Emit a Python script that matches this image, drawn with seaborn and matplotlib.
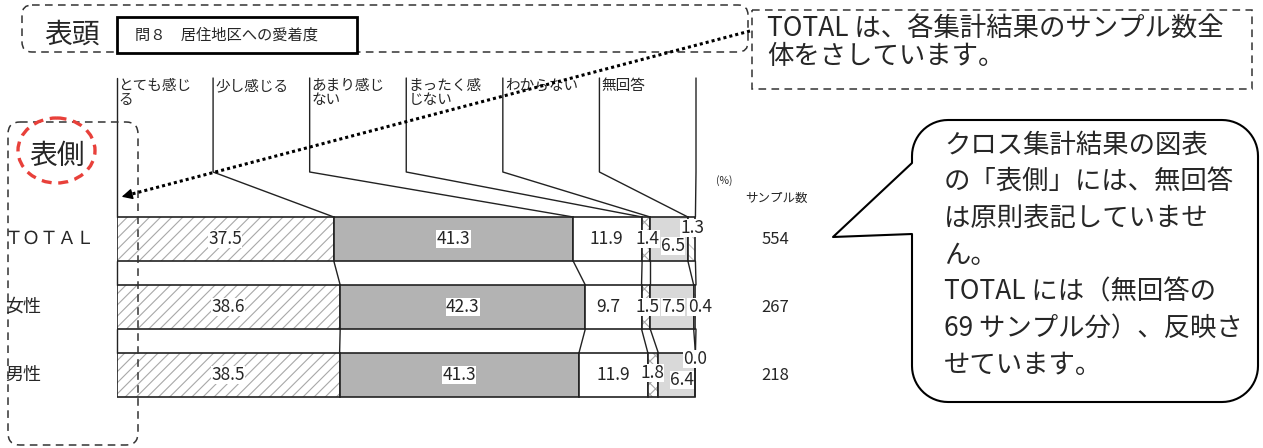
import numpy as np
import pandas as pd
import matplotlib
matplotlib.use("Agg")
import matplotlib.pyplot as plt
from matplotlib.patches import FancyBboxPatch, Rectangle, Ellipse, PathPatch
from matplotlib.path import Path
from matplotlib import transforms
from matplotlib.lines import Line2D
import seaborn as sns

# ---------------- data ----------------
groups = ["ＴＯＴＡＬ", "女性", "男性"]
answers = ["とても感じる", "少し感じる", "あまり感じない", "まったく感じない", "わからない", "無回答"]
answer_labels = ["とても感じ\nる", "少し感じる", "あまり感じ\nない", "まったく感\nじない", "わからない", "無回答"]
very_much = [37.5, 38.6, 38.5]
somewhat = [41.3, 42.3, 41.3]
not_much = [11.9, 9.7, 11.9]
not_at_all = [1.4, 1.5, 1.8]
dont_know = [6.5, 7.5, 6.4]
no_answer = [1.3, 0.4, 0.0]
sample_sizes = [554, 267, 218]
question = "問８　居住地区への愛着度"

note_top = ["TOTAL は、各集計結果のサンプル数全", "体をさしています。"]
note_bubble = ["クロス集計結果の図表", "の「表側」には、無回答", "は原則表記していませ",
               "ん。", "TOTAL には（無回答の", "69 サンプル分）、反映さ", "せています。"]

# ---------------- styling ----------------
sns.set_style("white")
plt.rcParams["font.family"] = ["Noto Sans CJK JP", "DejaVu Sans"]
plt.rcParams["hatch.linewidth"] = 0.8

W, H = 1263, 448
EDGE = "#222222"
seg_styles = [
    dict(color="white", hatch="///", hcolor="#a8a8a8"),
    dict(color="#b3b3b3", hatch=None, hcolor="none"),
    dict(color="white", hatch=None, hcolor="none"),
    dict(color="white", hatch="xxx", hcolor="#a8a8a8"),
    dict(color="#d9d9d9", hatch=None, hcolor="none"),
    dict(color="white", hatch="\\\\\\", hcolor="#c4c4c4"),
]

# pixel layout of the bar block
X0_PX, X1_PX = 116.5, 696.0          # 0 % and 100 %
ROW0_PX, ROW_PX = 239.0, 68.0        # centre of first row, row pitch
BAR_W = 44.0 / ROW_PX                # bar thickness in row units
TOP_PX, BOT_PX = 60.0, 420.0


def py(p):
    """pixel row -> bar-axes y"""
    return (p - ROW0_PX) / ROW_PX


def px_dx(p):
    return p * 100.0 / (X1_PX - X0_PX)


# ---------------- frame ----------------
fig = plt.figure(figsize=(W / 100, H / 100), dpi=100)
fig.patch.set_facecolor("white")

ax = fig.add_axes([X0_PX / W, 1 - BOT_PX / H, (X1_PX - X0_PX) / W, (BOT_PX - TOP_PX) / H])

vals = np.array([very_much, somewhat, not_much, not_at_all, dont_know, no_answer])
cum = np.cumsum(vals, axis=0)
lefts = np.vstack([np.zeros(len(groups)), cum[:-1]])

df = pd.DataFrame({
    "group": np.tile(groups, len(answers)),
    "answer": np.repeat(answers, len(groups)),
    "value": vals.ravel(),
    "left": lefts.ravel(),
})

for j, a in enumerate(answers):
    sub = df[df["answer"] == a]
    st = seg_styles[j]
    sns.barplot(data=sub, x="value", y="group", order=groups, orient="y", ax=ax,
                left=sub["left"].to_numpy(), width=BAR_W, color=st["color"],
                saturation=1, edgecolor=st["hcolor"], hatch=st["hatch"],
                linewidth=0, errorbar=None)
    sns.barplot(data=sub, x="value", y="group", order=groups, orient="y", ax=ax,
                left=sub["left"].to_numpy(), width=BAR_W, color=EDGE, fill=False,
                linewidth=1.2, errorbar=None)

ax.set_xlim(0, 100)
ax.set_ylim(py(BOT_PX), py(TOP_PX))
ax.axis("off")

# connectors between stacked bars
bounds = np.vstack([np.zeros(len(groups)), cum])
half = BAR_W / 2
for r in range(len(groups) - 1):
    for k in range(bounds.shape[0]):
        ax.plot([bounds[k, r], bounds[k, r + 1]], [r + half, r + 1 - half],
                color=EDGE, lw=1.0, clip_on=False)

# column header guides and labels
col_x = np.linspace(0, 100, len(answers) + 1)
for j in range(len(answers) + 1):
    target = bounds[j, 0]
    ax.plot([col_x[j], col_x[j], target], [py(78), py(172), -half],
            color=EDGE, lw=1.0, clip_on=False)
for j, lab in enumerate(answer_labels):
    ax.text(col_x[j] + px_dx(2), py(79), lab, ha="left", va="top", fontsize=10.5,
            linespacing=1.0, clip_on=False)

# value labels
nudges = {(0, 2): (-1, 0), (0, 3): (1, 0), (0, 4): (4, 7), (0, 5): (1, -11),
          (1, 2): (-5, 0), (1, 3): (2, 0), (1, 4): (1, 0), (1, 5): (5, 0),
          (2, 3): (-1, -2), (2, 4): (5, 5), (2, 5): (0, -16)}
for j in range(len(answers)):
    for r in range(len(groups)):
        v = vals[j, r]
        dx, dy = nudges.get((r, j), (0, 0))
        ax.text(lefts[j, r] + v / 2 + px_dx(dx), r + dy / ROW_PX, f"{v:.1f}",
                ha="center", va="center", fontsize=12.5, clip_on=False,
                bbox=dict(fc="white", ec="none", pad=0.3))

# ---------------- overlay in pixel space ----------------
ov = fig.add_axes([0, 0, 1, 1])
ov.set_xlim(0, W)
ov.set_ylim(H, 0)
ov.axis("off")

row_tr = transforms.blended_transform_factory(ov.transData, ax.transData)
for r, g in enumerate(groups):
    ov.text(5, r, g, transform=row_tr, ha="left", va="center", fontsize=13)
    ov.text(775, r, f"{sample_sizes[r]}", transform=row_tr, ha="center", va="center",
            fontsize=12)
ov.text(724, 181, "(%)", ha="center", va="center", fontsize=7.5)
ov.text(776, 198, "サンプル数", ha="center", va="center", fontsize=9)

dash = (0, (5, 3.5))
# table-head frame
ov.add_patch(FancyBboxPatch((22, 5), 726, 47, boxstyle="round,pad=0,rounding_size=10",
                            fill=False, ec="#333333", lw=1.1, ls=dash))
ov.add_patch(Rectangle((117, 17), 240, 36, fill=True, fc="white", ec="black", lw=2.0))
ov.text(135, 35, question, ha="left", va="center", fontsize=11)
ov.text(72, 35, "表頭", ha="center", va="center", fontsize=20, style="italic")

# table-side frame
ov.add_patch(FancyBboxPatch((8, 122), 130, 323, boxstyle="round,pad=0,rounding_size=12",
                            fill=False, ec="#333333", lw=1.1, ls=dash))
ov.add_patch(Ellipse((56.5, 150.5), 77, 65, fill=False, ec="#e8403a", lw=2.4,
                     ls=(0, (3, 2))))
ov.text(57, 156, "表側", ha="center", va="center", fontsize=20, style="italic")

# note box at top right
ov.add_patch(Rectangle((752, 10), 500, 79, fill=True, fc="white", ec="#333333", lw=1.1,
                       ls=dash))
ov.text(767, 29.5, note_top[0], ha="left", va="center", fontsize=19)
ov.text(767, 57, note_top[1], ha="left", va="center", fontsize=19)

# dotted pointer to the table side
ov.add_line(Line2D([750, 130], [31, 194.5], color="black", lw=2.2,
                   ls=(0, (1, 1)), solid_capstyle="butt", dash_capstyle="butt"))
ov.annotate("", xy=(119, 197.5), xytext=(134, 193.5),
            arrowprops=dict(arrowstyle="-|>", mutation_scale=16, color="black", lw=1.0))

# speech bubble
def bubble_path(x0, y0, x1, y1, r, tip, join_top, join_bot, n=16):
    def arc(cx, cy, a0, a1):
        t = np.radians(np.linspace(a0, a1, n))
        return list(zip(cx + r * np.cos(t), cy + r * np.sin(t)))
    verts = [(x0, join_top)]
    verts += arc(x0 + r, y0 + r, 180, 270)
    verts += arc(x1 - r, y0 + r, 270, 360)
    verts += arc(x1 - r, y1 - r, 0, 90)
    verts += arc(x0 + r, y1 - r, 90, 180)
    verts += [(x0, join_bot), tip, (x0, join_top)]
    codes = [Path.MOVETO] + [Path.LINETO] * (len(verts) - 2) + [Path.CLOSEPOLY]
    return Path(verts, codes)


ov.add_patch(PathPatch(bubble_path(912, 120, 1258, 402, 36, (833, 237), 163, 234),
                       fc="white", ec="black", lw=1.5, joinstyle="round"))
for i, line in enumerate(note_bubble):
    ov.text(944, 145 + i * 36.7, line, ha="left", va="center", fontsize=19)

fig.savefig("out.png", dpi=100, facecolor="white")
